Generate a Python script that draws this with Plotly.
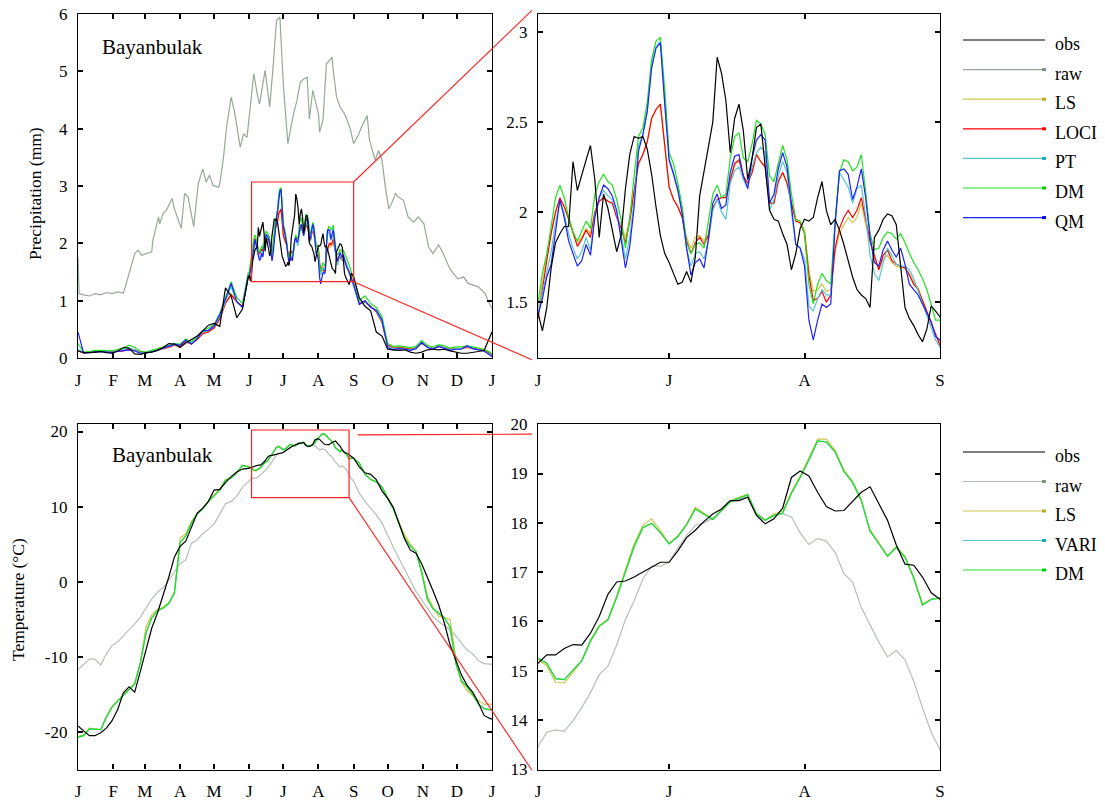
import plotly.graph_objects as go

FIG_W, FIG_H = 1105, 801
FONT = "Liberation Serif, Times New Roman, serif"

# ---------------- axis ticks ----------------
MONTH_TICKS = [0, 31, 59, 90, 120, 151, 181, 212, 243, 273, 304, 334, 365]
MONTH_LABELS = ["J", "F", "M", "A", "M", "J", "J", "A", "S", "O", "N", "D", "J"]
ZOOM_TICKS = [151, 181, 212, 243]
ZOOM_LABELS = ["J", "J", "A", "S"]
P_YTICKS = [0, 1, 2, 3, 4, 5, 6]
PZ_YTICKS = [1.5, 2, 2.5, 3]
PZ_YLABELS = ["1.5", "2", "2.5", "3"]
T_YTICKS = [-20, -10, 0, 10, 20]
T_YLABELS = ["-20", "-10", "0", "10", "20"]
TZ_YTICKS = [13, 14, 15, 16, 17, 18, 19, 20]

# ---------------- day-of-year sampling ----------------
EARLY_DAYS = list(range(0, 151, 5))
P_SUMMER_DAYS = list(range(151, 244))
T_SUMMER_DAYS = list(range(151, 244, 2))
LATE_DAYS = list(range(248, 364, 5)) + [365]
P_DAYS = EARLY_DAYS + P_SUMMER_DAYS + LATE_DAYS
T_DAYS = EARLY_DAYS + T_SUMMER_DAYS + LATE_DAYS

# ---------------- precipitation (mm) ----------------
RAW_P_DAYS = [0, 1, 5, 10, 15, 20, 25, 30, 35, 40, 43, 47, 50, 53, 56, 60, 65, 66, 71, 72,
              75, 78, 83, 85, 91, 94, 97, 102, 106, 110, 113, 116, 119, 124, 125, 128, 131, 135, 138, 143,
              146, 149, 152, 155, 158, 160, 165, 169, 172, 175, 178, 181, 185, 190, 193, 196, 199, 202, 204, 207,
              212, 213, 216, 219, 224, 225, 228, 231, 235, 240, 243, 247, 250, 255, 257, 262, 265, 268, 271, 274,
              277, 280, 282, 287, 291, 296, 300, 305, 309, 313, 318, 322, 327, 331, 335, 340, 344, 349, 353, 356,
              359, 362, 365]
RAW_P_VALS = [1.76, 1.12, 1.10, 1.08, 1.12, 1.10, 1.14, 1.12, 1.15, 1.13, 1.33, 1.59, 1.82, 1.88, 1.79, 1.82, 1.85, 2.05, 2.46, 2.34,
              2.52, 2.58, 2.78, 2.60, 2.26, 2.87, 2.81, 2.29, 3.04, 3.30, 3.07, 3.19, 3.01, 2.98, 3.04, 3.45, 4.03, 4.55, 4.30, 3.68,
              3.91, 3.85, 4.38, 4.96, 4.61, 4.43, 5.02, 4.38, 5.08, 5.89, 5.95, 4.78, 3.74, 4.26, 4.49, 4.81, 4.87, 4.90, 4.17, 4.67,
              4.26, 3.94, 4.15, 5.13, 5.25, 5.02, 4.55, 4.38, 4.26, 4.00, 3.74, 3.88, 4.03, 4.23, 3.80, 3.45, 3.62, 3.45, 2.98, 2.60,
              2.72, 2.87, 2.81, 2.75, 2.46, 2.37, 2.46, 2.34, 1.94, 1.82, 1.97, 1.82, 1.59, 1.47, 1.38, 1.41, 1.30, 1.27, 1.24, 1.18,
              1.12, 0.98, 0.86]

P_OBS_EARLY = [0.12, 0.09, 0.09, 0.10, 0.11, 0.09, 0.08, 0.12, 0.18, 0.17, 0.07, 0.06, 0.09, 0.10, 0.13, 0.18,
               0.25, 0.24, 0.18, 0.26, 0.32, 0.38, 0.47, 0.57, 0.60, 0.55, 1.22, 1.08, 0.70, 0.85, 1.40]
P_OBS_SUMMER = [1.44, 1.34, 1.47, 1.69, 1.83, 1.88, 1.92, 1.92, 2.28, 2.12,
                2.21, 2.29, 2.37, 2.18, 1.86, 2.10, 2.02, 1.90, 1.78, 1.87,
                2.13, 2.32, 2.42, 2.41, 2.42, 2.35, 2.21, 2.03, 1.87, 1.77,
                1.72, 1.66, 1.60, 1.61, 1.67, 1.61, 1.75, 2.09, 2.23, 2.38,
                2.50, 2.86, 2.77, 2.62, 2.33, 2.52, 2.60, 2.45, 2.18, 2.30,
                2.47, 2.49, 2.24, 2.01, 1.96, 1.95, 1.88, 1.82, 1.68, 1.77,
                1.91, 1.96, 1.95, 1.97, 2.08, 2.17, 2.01, 1.93, 1.96, 1.90,
                1.82, 1.73, 1.64, 1.57, 1.54, 1.52, 1.47, 1.86, 1.90, 1.96,
                1.99, 1.98, 1.93, 1.70, 1.47, 1.41, 1.37, 1.32, 1.28, 1.35,
                1.48, 1.45, 1.42]
P_OBS_LATE = [1.05, 0.90, 0.82, 0.45, 0.38, 0.15, 0.14, 0.13, 0.14, 0.10, 0.08, 0.10, 0.14, 0.15, 0.14,
              0.15, 0.12, 0.10, 0.08, 0.08, 0.09, 0.11, 0.13, 0.35, 0.45]

P_LS_EARLY = [0.12, 0.09, 0.10, 0.11, 0.12, 0.12, 0.11, 0.12, 0.13, 0.16, 0.14, 0.10, 0.09, 0.11, 0.14, 0.16,
              0.19, 0.23, 0.22, 0.30, 0.26, 0.35, 0.44, 0.47, 0.54, 0.70, 0.96, 1.12, 0.98, 0.90, 1.45]
P_LS_SUMMER = [1.46, 1.62, 1.76, 1.89, 2.00, 2.07, 2.03, 1.97, 1.89, 1.83,
               1.86, 1.91, 1.88, 2.00, 2.06, 2.08, 2.06, 2.05, 1.98, 1.93,
               1.86, 1.96, 2.12, 2.27, 2.32, 2.39, 2.52, 2.57, 2.60, 2.38,
               2.14, 2.07, 2.03, 1.97, 1.86, 1.80, 1.86, 1.87, 1.84, 1.88,
               2.02, 2.07, 2.08, 2.08, 2.18, 2.26, 2.29, 2.20, 2.16, 2.22,
               2.32, 2.28, 2.25, 2.05, 2.05, 2.17, 2.22, 2.16, 2.05, 1.96,
               1.95, 1.90, 1.68, 1.56, 1.57, 1.60, 1.56, 1.57, 1.78, 1.88,
               1.93, 1.97, 1.94, 1.97, 2.05, 1.93, 1.83, 1.75, 1.68, 1.74,
               1.76, 1.72, 1.70, 1.69, 1.69, 1.66, 1.61, 1.58, 1.52, 1.45,
               1.39, 1.32, 1.27]
P_LS_LATE = [0.96, 0.99, 0.91, 0.82, 0.64, 0.23, 0.18, 0.19, 0.18, 0.16, 0.18, 0.26, 0.20, 0.17, 0.21,
             0.19, 0.16, 0.17, 0.17, 0.19, 0.17, 0.16, 0.14, 0.09, 0.06]

P_LOCI_EARLY = [0.12, 0.09, 0.10, 0.11, 0.12, 0.12, 0.11, 0.12, 0.12, 0.15, 0.13, 0.10, 0.09, 0.11, 0.14, 0.16,
                0.18, 0.22, 0.20, 0.28, 0.24, 0.32, 0.42, 0.45, 0.52, 0.68, 0.95, 1.10, 0.98, 0.90, 1.40]
P_LOCI_SUMMER = [1.41, 1.58, 1.73, 1.88, 2.00, 2.08, 2.03, 1.96, 1.88, 1.81,
                 1.85, 1.90, 1.86, 2.00, 2.06, 2.08, 2.06, 2.05, 1.97, 1.91,
                 1.83, 1.95, 2.12, 2.27, 2.32, 2.39, 2.52, 2.57, 2.60, 2.38,
                 2.14, 2.07, 2.03, 1.97, 1.84, 1.77, 1.83, 1.86, 1.82, 1.87,
                 2.02, 2.07, 2.08, 2.08, 2.18, 2.27, 2.29, 2.20, 2.16, 2.22,
                 2.32, 2.28, 2.25, 2.05, 2.05, 2.17, 2.22, 2.16, 2.05, 1.95,
                 1.94, 1.88, 1.65, 1.51, 1.52, 1.56, 1.50, 1.54, 1.80, 1.91,
                 1.97, 2.01, 1.97, 2.01, 2.08, 1.95, 1.84, 1.76, 1.68, 1.76,
                 1.79, 1.73, 1.71, 1.70, 1.69, 1.65, 1.60, 1.57, 1.51, 1.44,
                 1.39, 1.32, 1.26]
P_LOCI_LATE = [0.95, 0.97, 0.90, 0.80, 0.62, 0.22, 0.17, 0.18, 0.17, 0.15, 0.17, 0.25, 0.19, 0.16, 0.20,
               0.18, 0.15, 0.16, 0.16, 0.18, 0.16, 0.15, 0.13, 0.08, 0.05]

P_PT_EARLY = [0.15, 0.09, 0.10, 0.11, 0.11, 0.11, 0.10, 0.12, 0.14, 0.17, 0.14, 0.09, 0.09, 0.11, 0.14, 0.17,
              0.20, 0.23, 0.22, 0.30, 0.25, 0.34, 0.45, 0.48, 0.55, 0.72, 0.98, 1.25, 0.97, 0.88, 1.42]
P_PT_SUMMER = [1.44, 1.55, 1.67, 1.78, 1.94, 2.06, 1.99, 1.88, 1.80, 1.74,
               1.78, 1.86, 1.79, 1.98, 2.08, 2.12, 2.09, 2.07, 1.99, 1.88,
               1.74, 1.86, 2.06, 2.37, 2.43, 2.56, 2.82, 2.92, 2.95, 2.62,
               2.30, 2.22, 2.13, 2.00, 1.80, 1.70, 1.77, 1.78, 1.74, 1.84,
               2.01, 2.07, 2.00, 1.96, 2.16, 2.23, 2.25, 2.18, 2.14, 2.25,
               2.33, 2.36, 2.33, 2.01, 2.07, 2.20, 2.28, 2.22, 2.00, 1.82,
               1.80, 1.74, 1.48, 1.45, 1.52, 1.57, 1.54, 1.54, 1.95, 2.22,
               2.18, 2.14, 2.05, 2.13, 2.15, 1.98, 1.76, 1.66, 1.62, 1.72,
               1.80, 1.76, 1.71, 1.70, 1.70, 1.68, 1.63, 1.56, 1.49, 1.43,
               1.36, 1.29, 1.25]
P_PT_LATE = [0.94, 0.98, 0.89, 0.82, 0.64, 0.20, 0.16, 0.17, 0.16, 0.14, 0.17, 0.26, 0.19, 0.16, 0.20,
             0.18, 0.14, 0.16, 0.16, 0.20, 0.16, 0.15, 0.12, 0.07, 0.04]

P_DM_EARLY = [0.25, 0.10, 0.11, 0.13, 0.13, 0.13, 0.12, 0.15, 0.17, 0.22, 0.18, 0.11, 0.10, 0.13, 0.16, 0.19,
              0.22, 0.25, 0.24, 0.33, 0.28, 0.37, 0.48, 0.52, 0.58, 0.78, 1.05, 1.33, 1.05, 0.95, 1.48]
P_DM_SUMMER = [1.50, 1.66, 1.77, 1.92, 2.08, 2.15, 2.08, 1.97, 1.89, 1.84,
               1.90, 1.95, 1.91, 2.10, 2.17, 2.21, 2.17, 2.15, 2.07, 1.96,
               1.80, 1.97, 2.20, 2.42, 2.47, 2.61, 2.85, 2.95, 2.97, 2.68,
               2.33, 2.27, 2.16, 2.03, 1.83, 1.77, 1.82, 1.83, 1.80, 1.95,
               2.10, 2.15, 2.08, 2.10, 2.30, 2.42, 2.44, 2.30, 2.28, 2.38,
               2.51, 2.49, 2.43, 2.20, 2.17, 2.27, 2.37, 2.29, 2.10, 1.96,
               1.95, 1.88, 1.60, 1.49, 1.60, 1.66, 1.62, 1.60, 1.95, 2.22,
               2.29, 2.28, 2.23, 2.25, 2.32, 2.11, 1.88, 1.79, 1.80, 1.86,
               1.89, 1.88, 1.85, 1.88, 1.83, 1.77, 1.72, 1.68, 1.63, 1.57,
               1.49, 1.40, 1.40]
P_DM_LATE = [1.00, 1.08, 0.95, 0.88, 0.72, 0.25, 0.20, 0.21, 0.19, 0.18, 0.20, 0.30, 0.22, 0.19, 0.23,
             0.21, 0.17, 0.19, 0.19, 0.21, 0.19, 0.17, 0.15, 0.10, 0.07]

P_QM_EARLY = [0.45, 0.08, 0.09, 0.10, 0.11, 0.10, 0.09, 0.11, 0.12, 0.14, 0.12, 0.08, 0.08, 0.10, 0.13, 0.17,
              0.21, 0.24, 0.22, 0.31, 0.24, 0.33, 0.47, 0.48, 0.56, 0.75, 1.02, 1.30, 0.98, 0.88, 1.42]
P_QM_SUMMER = [1.43, 1.52, 1.64, 1.71, 1.90, 2.07, 1.97, 1.84, 1.77, 1.70,
               1.73, 1.82, 1.76, 1.97, 2.08, 2.15, 2.13, 2.09, 2.01, 1.86,
               1.69, 1.81, 2.03, 2.34, 2.43, 2.56, 2.80, 2.91, 2.94, 2.60,
               2.29, 2.21, 2.12, 1.99, 1.80, 1.65, 1.72, 1.74, 1.69, 1.85,
               2.05, 2.10, 2.02, 2.04, 2.22, 2.31, 2.32, 2.20, 2.13, 2.30,
               2.40, 2.43, 2.40, 2.05, 2.10, 2.24, 2.33, 2.25, 2.02, 1.82,
               1.80, 1.70, 1.40, 1.29, 1.40, 1.49, 1.47, 1.49, 1.93, 2.23,
               2.24, 2.21, 2.07, 2.14, 2.24, 2.08, 1.86, 1.72, 1.70, 1.79,
               1.84, 1.79, 1.75, 1.80, 1.71, 1.60, 1.57, 1.54, 1.49, 1.44,
               1.39, 1.31, 1.29]
P_QM_LATE = [0.93, 1.00, 0.88, 0.83, 0.66, 0.18, 0.14, 0.16, 0.15, 0.13, 0.16, 0.27, 0.18, 0.15, 0.20,
             0.17, 0.13, 0.15, 0.15, 0.21, 0.16, 0.14, 0.12, 0.05, 0.02]

# ---------------- temperature (deg C) ----------------
T_OBS_EARLY = [-19.2, -19.8, -20.5, -20.5, -20.1, -19.5, -18.5, -17.0, -14.8, -14.0, -14.7, -11.9, -8.9, -6.2, -4.2, -1.9,
               0.6, 3.3, 4.7, 5.4, 7.3, 9.1, 9.8, 10.7, 12.2, 12.3, 13.2, 14.0, 14.6, 15.0, 15.1]
T_OBS_SUMMER = [15.15, 15.32, 15.32, 15.45, 15.53, 15.52, 15.76, 16.10, 16.55, 16.80,
                16.82, 16.90, 17.00, 17.10, 17.20, 17.20, 17.43, 17.70, 17.85, 18.03,
                18.18, 18.28, 18.45, 18.45, 18.52, 18.15, 17.98, 18.08, 18.30, 18.92,
                19.05, 18.95, 18.62, 18.33, 18.24, 18.25, 18.43, 18.62, 18.73, 18.38,
                18.05, 17.55, 17.16, 17.14, 16.90, 16.58, 16.45]
T_OBS_LATE = [15.3, 14.5, 14.3, 13.6, 12.1, 11.1, 9.9, 7.8, 5.7, 4.2, 3.8, 2.4, 0.7, -1.2, -3.1,
              -5.5, -8.4, -10.5, -12.4, -13.8, -14.7, -16.1, -17.8, -18.2, -18.3]

T_RAW_EARLY = [-11.7, -11.0, -10.3, -10.3, -11.1, -9.6, -8.5, -8.0, -7.2, -6.5, -5.6, -4.7, -3.4, -2.3, -1.4, -0.8,
               0.2, 1.3, 2.4, 2.9, 5.1, 5.6, 6.4, 7.0, 7.7, 9.0, 10.4, 10.7, 11.4, 12.6, 13.4]
T_RAW_SUMMER = [13.46, 13.75, 13.80, 13.77, 13.98, 14.25, 14.55, 14.92, 15.09, 15.52,
                16.04, 16.42, 16.86, 17.12, 17.12, 17.20, 17.49, 17.74, 17.95, 18.00,
                18.10, 18.25, 18.42, 18.48, 18.53, 18.20, 18.06, 18.14, 18.18, 18.12,
                17.80, 17.56, 17.68, 17.63, 17.40, 16.97, 16.80, 16.28, 15.92, 15.58,
                15.28, 15.41, 15.22, 14.78, 14.25, 13.75, 13.40]
T_RAW_LATE = [11.8, 10.7, 9.8, 8.9, 7.8, 6.1, 4.6, 3.1, 1.6, 0.1, -1.3, -2.4, -3.5, -4.6, -5.3,
              -5.9, -6.4, -7.2, -8.1, -9.1, -9.6, -10.5, -10.9, -11.0, -11.0]

T_LS_EARLY = [-20.6, -20.4, -19.5, -19.6, -19.7, -18.0, -16.6, -15.8, -15.0, -14.2, -13.5, -10.6, -6.0, -4.4, -3.7, -3.4,
              -2.8, -1.3, 5.8, 6.4, 8.0, 9.1, 9.8, 10.8, 11.6, 12.4, 13.6, 13.9, 14.6, 15.5, 15.4]
T_LS_SUMMER = [15.22, 15.10, 14.76, 14.75, 14.96, 15.20, 15.62, 15.92, 16.05, 16.52,
               17.05, 17.58, 17.95, 18.08, 17.84, 17.58, 17.74, 17.98, 18.32, 18.20,
               18.07, 18.27, 18.45, 18.52, 18.58, 18.16, 18.06, 18.18, 18.24, 18.62,
               18.95, 19.32, 19.70, 19.70, 19.47, 19.07, 18.84, 18.47, 17.85, 17.60,
               17.33, 17.52, 17.32, 16.90, 16.36, 16.45, 16.47]
T_LS_LATE = [15.8, 14.4, 13.7, 13.3, 12.7, 11.3, 9.8, 7.9, 6.2, 5.0, 4.1, 1.5, -1.8, -3.4, -4.6,
             -4.8, -5.0, -10.0, -13.4, -14.5, -15.2, -15.8, -16.3, -16.3, -16.3]

T_VARI_EARLY = [-20.7, -20.5, -19.6, -19.6, -19.7, -18.0, -16.7, -15.9, -15.1, -14.3, -13.6, -10.8, -6.8, -4.8, -3.9, -3.5,
                -2.9, -1.5, 5.2, 6.1, 7.8, 9.0, 9.7, 10.7, 11.4, 12.2, 13.5, 13.8, 14.5, 15.5, 15.3]
T_VARI_SUMMER = [15.25, 15.15, 14.84, 14.82, 15.01, 15.20, 15.60, 15.90, 16.03, 16.49,
                 17.00, 17.52, 17.90, 17.99, 17.80, 17.57, 17.72, 17.96, 18.28, 18.18,
                 18.07, 18.25, 18.43, 18.50, 18.57, 18.18, 18.05, 18.15, 18.20, 18.60,
                 18.92, 19.28, 19.66, 19.64, 19.44, 19.05, 18.82, 18.45, 17.83, 17.58,
                 17.32, 17.50, 17.30, 16.88, 16.33, 16.45, 16.47]
T_VARI_LATE = [15.8, 14.3, 13.6, 13.3, 12.6, 11.2, 9.7, 7.7, 5.8, 4.7, 4.0, 1.2, -2.3, -3.6, -4.2,
               -4.8, -6.0, -10.8, -13.2, -14.0, -15.0, -16.3, -16.9, -17.1, -17.1]

T_DM_EARLY = [-20.7, -20.5, -19.6, -19.6, -19.7, -18.0, -16.7, -15.9, -15.1, -14.3, -13.6, -10.8, -6.8, -4.8, -3.9, -3.5,
              -2.9, -1.5, 5.2, 6.1, 7.8, 9.0, 9.7, 10.7, 11.4, 12.2, 13.5, 13.8, 14.5, 15.5, 15.3]
T_DM_SUMMER = [15.25, 15.15, 14.84, 14.82, 15.01, 15.20, 15.60, 15.90, 16.03, 16.49,
               17.00, 17.52, 17.90, 17.99, 17.80, 17.57, 17.72, 17.96, 18.28, 18.18,
               18.07, 18.25, 18.43, 18.50, 18.57, 18.18, 18.05, 18.15, 18.20, 18.60,
               18.92, 19.28, 19.66, 19.64, 19.44, 19.05, 18.82, 18.45, 17.83, 17.58,
               17.32, 17.50, 17.30, 16.88, 16.33, 16.45, 16.47]
T_DM_LATE = [15.8, 14.3, 13.6, 13.3, 12.6, 11.2, 9.7, 7.7, 5.8, 4.7, 4.0, 1.2, -2.3, -3.6, -4.2,
             -4.8, -6.0, -10.8, -13.2, -14.0, -15.0, -16.3, -16.9, -17.1, -17.1]

# zoom boxes drawn on the annual panels (data units)
P_BOX = dict(x0=153, x1=243, y0=1.33, y1=3.07)
T_BOX = dict(x0=153, x1=239, y0=11.2, y1=20.2)

STATION = "Bayanbulak"
P_LEGEND = ["obs", "raw", "LS", "LOCI", "PT", "DM", "QM"]
T_LEGEND = ["obs", "raw", "LS", "VARI", "DM"]

# ---------------- styles ----------------
C = {
    "obs": "#000000", "raw_p": "#98a898", "raw_t": "#b6bfb6", "LS": "#d2c64e", "LOCI": "#ff0000",
    "PT": "#56c6cf", "DM": "#22e022", "QM": "#1f1fff", "VARI": "#56c6cf",
}
LEG_MARK = {"raw": "#7f917f", "LS": "#b8ac2a", "LOCI": "#ff0000", "PT": "#1aa8b2", "DM": "#00d000",
            "QM": "#0000ee", "VARI": "#1aa8b2"}

PANELS = {
    "TL": dict(px=(78, 492), py=(14, 358), xr=[-0.01, 365.01], yr=[-0.003, 6.003], ax=("x", "y")),
    "TR": dict(px=(538, 940), py=(14, 358), xr=[150.99, 243.01], yr=[1.19, 3.10], ax=("x2", "y2")),
    "BL": dict(px=(78, 492), py=(424, 769.5), xr=[-0.01, 365.01], yr=[-25, 21], ax=("x3", "y3")),
    "BR": dict(px=(538, 940), py=(424, 769.5), xr=[150.99, 243.01], yr=[12.995, 20.005], ax=("x4", "y4")),
}


def px_x(p):
    return p / FIG_W


def px_y(p):
    return 1.0 - p / FIG_H


def to_paper(panel, xv, yv):
    p = PANELS[panel]
    dx0, dx1 = px_x(p["px"][0]), px_x(p["px"][1])
    dy0, dy1 = px_y(p["py"][1]), px_y(p["py"][0])
    fx = (xv - p["xr"][0]) / (p["xr"][1] - p["xr"][0])
    fy = (yv - p["yr"][0]) / (p["yr"][1] - p["yr"][0])
    return dx0 + fx * (dx1 - dx0), dy0 + fy * (dy1 - dy0)


fig = go.Figure()


def add(panel, x, y, color, width=1.2):
    n = min(len(x), len(y))
    xa, ya = PANELS[panel]["ax"]
    fig.add_trace(go.Scatter(x=x[:n], y=y[:n], mode="lines", line=dict(color=color, width=width),
                             xaxis=xa, yaxis=ya, showlegend=False, hoverinfo="skip"))


p_series = [
    ("LS", P_LS_EARLY + P_LS_SUMMER + P_LS_LATE),
    ("LOCI", P_LOCI_EARLY + P_LOCI_SUMMER + P_LOCI_LATE),
    ("PT", P_PT_EARLY + P_PT_SUMMER + P_PT_LATE),
    ("DM", P_DM_EARLY + P_DM_SUMMER + P_DM_LATE),
    ("QM", P_QM_EARLY + P_QM_SUMMER + P_QM_LATE),
]
p_obs = P_OBS_EARLY + P_OBS_SUMMER + P_OBS_LATE

t_series = [
    ("LS", T_LS_EARLY + T_LS_SUMMER + T_LS_LATE),
    ("VARI", T_VARI_EARLY + T_VARI_SUMMER + T_VARI_LATE),
    ("DM", T_DM_EARLY + T_DM_SUMMER + T_DM_LATE),
]
t_obs = T_OBS_EARLY + T_OBS_SUMMER + T_OBS_LATE
t_raw = T_RAW_EARLY + T_RAW_SUMMER + T_RAW_LATE

for panel in ("TL", "TR"):
    add(panel, RAW_P_DAYS, RAW_P_VALS, C["raw_p"])
    for name, vals in p_series:
        add(panel, P_DAYS, vals, C[name])
    add(panel, P_DAYS, p_obs, C["obs"])

for panel in ("BL", "BR"):
    add(panel, T_DAYS, t_raw, C["raw_t"])
    for name, vals in t_series:
        add(panel, T_DAYS, vals, C[name])
    add(panel, T_DAYS, t_obs, C["obs"])

tickfont = dict(family=FONT, size=17, color="black")


def axis(panel, which, **kw):
    p = PANELS[panel]
    d = dict(showline=True, linecolor="black", linewidth=1.3, mirror="allticks",
             ticks="inside", ticklen=5, tickwidth=1.8, tickcolor="black",
             showgrid=False, zeroline=False, automargin=False, fixedrange=True,
             tickfont=tickfont, tickmode="array")
    if which == "x":
        d.update(domain=[px_x(p["px"][0]), px_x(p["px"][1])], range=p["xr"], anchor=p["ax"][1],
                 ticklabelstandoff=6)
    else:
        d.update(domain=[px_y(p["py"][1]), px_y(p["py"][0])], range=p["yr"], anchor=p["ax"][0],
                 ticklabelstandoff=6)
    d.update(kw)
    return d


layout = dict(
    width=FIG_W, height=FIG_H, margin=dict(l=0, r=0, t=0, b=0, pad=0),
    paper_bgcolor="white", plot_bgcolor="white", showlegend=False,
    font=dict(family=FONT, color="black"),
    xaxis=axis("TL", "x", tickvals=MONTH_TICKS, ticktext=MONTH_LABELS),
    yaxis=axis("TL", "y", tickvals=P_YTICKS, ticktext=[str(v) for v in P_YTICKS]),
    xaxis2=axis("TR", "x", tickvals=ZOOM_TICKS, ticktext=ZOOM_LABELS),
    yaxis2=axis("TR", "y", tickvals=PZ_YTICKS, ticktext=PZ_YLABELS),
    xaxis3=axis("BL", "x", tickvals=MONTH_TICKS, ticktext=MONTH_LABELS),
    yaxis3=axis("BL", "y", tickvals=T_YTICKS, ticktext=T_YLABELS),
    xaxis4=axis("BR", "x", tickvals=ZOOM_TICKS, ticktext=ZOOM_LABELS),
    yaxis4=axis("BR", "y", tickvals=TZ_YTICKS, ticktext=[str(v) for v in TZ_YTICKS]),
)
fig.update_layout(**layout)

shapes = []
RED = "#ff2020"
shapes.append(dict(type="rect", xref="x", yref="y", x0=P_BOX["x0"], x1=P_BOX["x1"], y0=P_BOX["y0"], y1=P_BOX["y1"],
                   line=dict(color=RED, width=1.2), fillcolor="rgba(0,0,0,0)"))
shapes.append(dict(type="rect", xref="x3", yref="y3", x0=T_BOX["x0"], x1=T_BOX["x1"], y0=T_BOX["y0"], y1=T_BOX["y1"],
                   line=dict(color=RED, width=1.2), fillcolor="rgba(0,0,0,0)"))


def connector(pa, xa, ya, pb, xb, yb):
    x0, y0 = to_paper(pa, xa, ya)
    x1, y1 = to_paper(pb, xb, yb)
    return dict(type="line", xref="paper", yref="paper", x0=x0, y0=y0, x1=x1, y1=y1,
                line=dict(color=RED, width=1.1))


shapes.append(connector("TL", P_BOX["x1"], P_BOX["y1"], "TR", 149.6, 3.12))
shapes.append(connector("TL", P_BOX["x1"], P_BOX["y0"], "TR", 149.6, 1.18))
shapes.append(connector("BL", 246.6, 19.55, "BR", 149.6, 19.8))
shapes.append(connector("BL", T_BOX["x1"], T_BOX["y0"], "BR", 149.6, 12.98))

annotations = []


def legend(names, colors, y_start, step):
    for i, name in enumerate(names):
        yp = y_start + i * step
        shapes.append(dict(type="line", xref="paper", yref="paper", x0=px_x(963), x1=px_x(1045),
                           y0=px_y(yp), y1=px_y(yp), line=dict(color=colors[i], width=1.2)))
        if name in LEG_MARK:
            shapes.append(dict(type="rect", xref="paper", yref="paper", x0=px_x(1042), x1=px_x(1046),
                               y0=px_y(yp + 1.5), y1=px_y(yp - 1.5), line=dict(width=0),
                               fillcolor=LEG_MARK[name]))
        annotations.append(dict(xref="paper", yref="paper", x=px_x(1053), y=px_y(yp + 4), text=name,
                                showarrow=False, xanchor="left", yanchor="middle",
                                font=dict(family=FONT, size=18, color="black")))


legend(P_LEGEND, [C["obs"], C["raw_p"], C["LS"], C["LOCI"], C["PT"], C["DM"], C["QM"]], 40, 29.6)
legend(T_LEGEND, [C["obs"], C["raw_t"], C["LS"], C["VARI"], C["DM"]], 452, 29.5)

annotations.append(dict(xref="paper", yref="paper", x=px_x(100), y=px_y(47), text=STATION, showarrow=False,
                        xanchor="left", yanchor="middle", font=dict(family=FONT, size=21, color="black")))
annotations.append(dict(xref="paper", yref="paper", x=px_x(110), y=px_y(455), text=STATION, showarrow=False,
                        xanchor="left", yanchor="middle", font=dict(family=FONT, size=21, color="black")))
annotations.append(dict(xref="paper", yref="paper", x=px_x(35), y=px_y(194), text="Precipitation (mm)",
                        showarrow=False, textangle=-90, xanchor="center", yanchor="middle",
                        font=dict(family=FONT, size=17.5, color="black")))
annotations.append(dict(xref="paper", yref="paper", x=px_x(18), y=px_y(600), text="Temperature (°C)",
                        showarrow=False, textangle=-90, xanchor="center", yanchor="middle",
                        font=dict(family=FONT, size=17.5, color="black")))

fig.update_layout(shapes=shapes, annotations=annotations)
# remove the default 8px page margin so the 1105x801 figure fills the window exactly
fig.write_html("out.html",
               config={"displayModeBar": False},
               post_script="document.body.style.margin='0';document.body.style.padding='0';"
                           "document.body.style.overflow='hidden';")
